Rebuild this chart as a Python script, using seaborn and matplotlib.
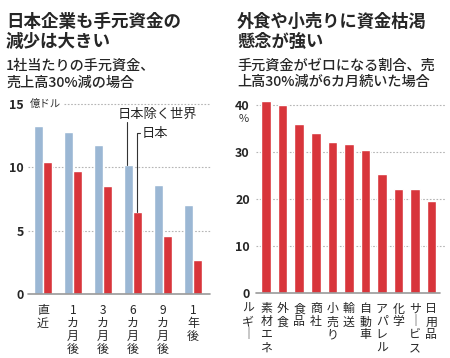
import numpy as np
import pandas as pd
import matplotlib
matplotlib.use("Agg")
import matplotlib.pyplot as plt
import seaborn as sns

# ── Data ──────────────────────────────────────────────────────────────────────
periods      = ["直近", "1カ月後", "3カ月後", "6カ月後", "9カ月後", "1年後"]
period_ticks = ["直\n近", "1\nカ\n月\n後", "3\nカ\n月\n後", "6\nカ\n月\n後",
                "9\nカ\n月\n後", "1\n年\n後"]
world_ex_jp  = [13.3, 12.8, 11.8, 10.2, 8.6, 7.0]
japan        = [10.4, 9.75, 8.5, 6.5, 4.6, 2.7]
left_yticks  = [0, 5, 10, 15]

industries   = ["素材エネルギー", "外食", "食品", "商社", "小売り", "輸送", "自動車",
                "アパレル", "化学", "サービス", "日用品"]
ind_ticks    = ["素\n材\nエ\nネ", "外\n食", "食\n品", "商\n社", "小\n売\nり",
                "輸\n送", "自\n動\n車", "ア\nパ\nレ\nル", "化\n学",
                "サ\n｜\nビ\nス", "日\n用\n品"]
ind_extra    = "ル\nギ\n｜"     # second column of 素材エネルギー
zero_share   = [40.9, 40.0, 36.0, 34.0, 32.1, 31.6, 30.4, 25.4, 22.2, 22.2, 19.5]
right_yticks = [0, 10, 20, 30, 40]

BLUE = "#9bb7d4"
RED  = "#d8353b"
GRID = "#b5b5b5"
FONT = ["Noto Sans CJK JP", "DejaVu Sans"]

sns.set_style("white")
plt.rcParams["font.family"] = FONT

W, H = 450, 358
fig = plt.figure(figsize=(W / 100, H / 100), dpi=100)


def px_ax(x0, x1, y_bottom, y_top):
    return fig.add_axes([x0 / W, 1 - y_bottom / H, (x1 - x0) / W, (y_bottom - y_top) / H])


# ── Left chart ────────────────────────────────────────────────────────────────
axl = px_ax(28, 209.5, 294, 104)
df = pd.DataFrame({
    "period": periods * 2,
    "series": ["日本除く世界"] * 6 + ["日本"] * 6,
    "value":  world_ex_jp + japan,
})
sns.barplot(data=df, x="period", y="value", hue="series", order=periods,
            palette=[BLUE, RED], width=0.63, gap=0, saturation=1,
            legend=False, ax=axl, zorder=3)
axl.set_xlim(-0.5, 5.55)
axl.set_ylim(0, 15)
for v in left_yticks[1:]:
    xmin = 0.2 if v == 15 else 0
    axl.axhline(v, xmin=xmin, xmax=1, color=GRID, lw=0.8, ls=(0, (1.5, 1.5)),
                zorder=1, clip_on=False)
axl.axhline(0, color="#999999", lw=1.2, zorder=4, clip_on=False)
axl.text(0.01, 15, "億ドル", transform=axl.get_yaxis_transform(),
         ha="left", va="center", fontsize=7.5, color="#333333")

# callouts
bw = 0.63 / 2
xw = 3 - bw / 2 - 0.03
axl.plot([xw, xw], [world_ex_jp[3], 13.6], color="#333333", lw=0.8, zorder=5)
axl.text(3.8, 14.2, "日本除く世界", ha="center", va="center", fontsize=9.5)
xj = 3 + bw / 2 - 0.04
axl.plot([xj, xj, xj + 0.13], [japan[3], 12.7, 12.7], color="#333333", lw=0.8, zorder=5)
axl.text(3.28, 12.7, "日本", ha="left", va="center", fontsize=9.5)

# ── Right chart ───────────────────────────────────────────────────────────────
axr = px_ax(256, 446, 292.7, 95.7)
sns.barplot(x=industries, y=zero_share, color=RED, width=0.576, saturation=1,
            ax=axr, zorder=3)
axr.set_xlim(-0.62, 10.89)
axr.set_ylim(0, 42)
for v in right_yticks[1:]:
    axr.axhline(v, color=GRID, lw=0.8, ls=(0, (1.5, 1.5)), zorder=1)
axr.axhline(0, xmax=0.968, color="#999999", lw=1.2, zorder=4, clip_on=False)
axr.text(-0.065, 40 - 3.0, "%", transform=axr.get_yaxis_transform(),
         ha="center", va="center", fontsize=8, color="#333333")
axr.text(-1.1, -2.0, ind_extra, ha="center", va="top", fontsize=8.6,
         linespacing=1.0)

# ── Axis styling ──────────────────────────────────────────────────────────────
for ax, yt, xt, pad in [(axl, left_yticks, period_ticks, 3), (axr, right_yticks, ind_ticks, 4.5)]:
    sns.despine(ax=ax, left=True, bottom=True)
    ax.set_facecolor("none")
    ax.set_xlabel("")
    ax.set_ylabel("")
    ax.set_yticks(yt)
    ax.set_yticklabels([str(v) for v in yt], fontsize=9, fontweight="bold")
    ax.set_xticks(range(len(xt)))
    ax.set_xticklabels(xt, fontsize=8.6, linespacing=1.0, va="top")
    ax.tick_params(axis="both", length=0)
    ax.tick_params(axis="y", pad=pad)
    ax.tick_params(axis="x", pad=7)

# ── Titles ────────────────────────────────────────────────────────────────────
fig.text(6 / W, 1 - 32 / H, "日本企業も手元資金の\n減少は大きい", ha="left", va="center",
         fontsize=12.6, fontweight="bold", linespacing=1.1)
fig.text(6 / W, 1 - 74 / H, "1社当たりの手元資金、\n売上高30%減の場合", ha="left", va="center",
         fontsize=10.2, fontweight="medium", linespacing=1.25)
fig.text(237 / W, 1 - 32 / H, "外食や小売りに資金枯渇\n懸念が強い", ha="left", va="center",
         fontsize=12.4, fontweight="bold", linespacing=1.1)
fig.text(237 / W, 1 - 74 / H, "手元資金がゼロになる割合、売\n上高30%減が6カ月続いた場合", ha="left",
         va="center", fontsize=10.2, fontweight="medium", linespacing=1.25)

fig.savefig("out.png", dpi=100, facecolor="white")
